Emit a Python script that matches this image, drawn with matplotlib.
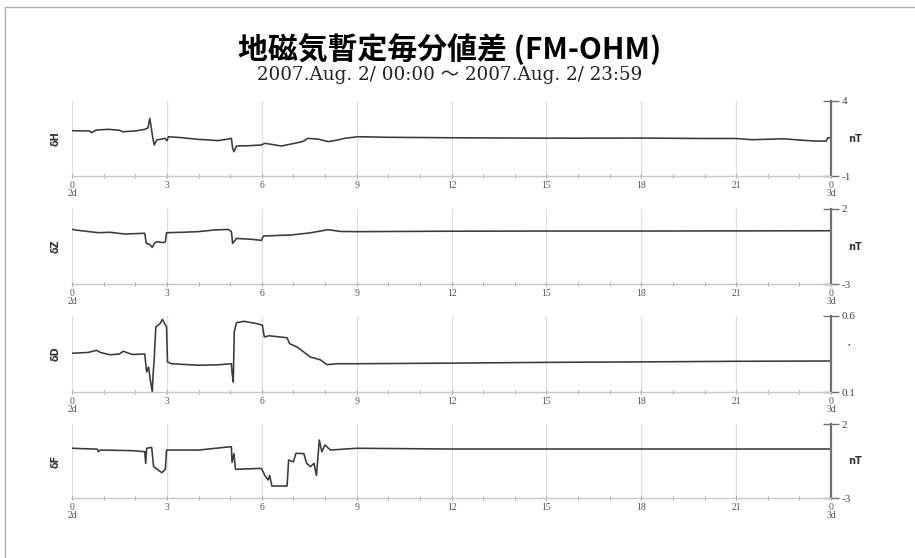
import matplotlib
matplotlib.use("Agg")
import matplotlib.pyplot as plt
from matplotlib.lines import Line2D

# ---------------- data (hours, values) ----------------
title = "地磁気暫定毎分値差 (FM-OHM)"
subtitle = "2007.Aug. 2/ 00:00 ～ 2007.Aug. 2/ 23:59"

labels = ["δH", "δZ", "δD", "δF"]
units = ["nT", "nT", "′", "nT"]
ranges = [(-1, 4), (-3, 2), (0.1, 0.6), (-3, 2)]
range_labels = [("-1", "4"), ("-3", "2"), ("0.1", "0.6"), ("-3", "2")]
xtick_labels = ["0\n2d", "3", "6", "9", "12", "15", "18", "21", "0\n3d"]

h_t = [0, 0.55, 0.62, 0.75, 0.8, 1.15, 1.5, 1.6, 2.0, 2.3, 2.4, 2.46, 2.5, 2.55, 2.6,
       2.68, 2.8, 2.94, 3.0, 3.05, 3.5, 3.99, 4.2, 4.62, 4.9, 5.04, 5.08, 5.12, 5.2,
       5.6, 5.99, 6.1, 6.62, 7.04, 7.3, 7.46, 7.8, 8.1, 8.4, 8.62, 9.04, 10, 12, 14,
       16, 18, 20, 21, 21.5, 22, 22.5, 23, 23.5, 23.85, 23.9, 24]
h_v = [2.02, 2.0, 1.89, 2.05, 2.07, 2.11, 2.05, 1.95, 2.0, 2.11, 2.2, 2.84, 2.3, 1.6, 1.07,
       1.4, 1.45, 1.51, 1.35, 1.62, 1.55, 1.44, 1.42, 1.36, 1.45, 1.51, 0.85, 0.62, 1.0,
       1.02, 1.07, 1.18, 1.0, 1.18, 1.3, 1.51, 1.45, 1.29, 1.4, 1.51, 1.62, 1.58, 1.55, 1.53,
       1.52, 1.53, 1.5, 1.5, 1.42, 1.45, 1.48, 1.4, 1.33, 1.33, 1.55, 1.55]

z_t = [0, 0.1, 0.83, 1.2, 1.67, 2.0, 2.3, 2.35, 2.45, 2.54, 2.6, 2.67, 2.88, 2.95, 2.99,
       3.5, 3.99, 4.5, 4.94, 5.04, 5.08, 5.2, 5.67, 5.99, 6.05, 6.94, 7.5, 8.1, 8.5, 9.04,
       12, 15, 18, 21, 24]
z_v = [0.65, 0.6, 0.42, 0.45, 0.33, 0.36, 0.38, -0.29, -0.35, -0.56, -0.3, -0.18, -0.24, -0.2, 0.42,
       0.45, 0.49, 0.6, 0.64, 0.49, -0.29, 0.04, -0.02, -0.09, 0.2, 0.27, 0.4, 0.62, 0.5, 0.49,
       0.52, 0.53, 0.53, 0.54, 0.55]

d_t = [0, 0.5, 0.78, 0.9, 1.2, 1.5, 1.62, 1.9, 2.3, 2.36, 2.42, 2.47, 2.54, 2.56, 2.6,
       2.65, 2.78, 2.86, 2.93, 2.99, 3.02, 3.15, 3.99, 4.62, 5.04, 5.06, 5.1, 5.13, 5.2,
       5.44, 5.86, 6.02, 6.08, 6.23, 6.8, 6.88, 7.12, 7.33, 7.54, 7.85, 8.06, 8.38, 9.0,
       12, 15, 18, 21, 24]
d_v = [0.355, 0.36, 0.374, 0.36, 0.345, 0.35, 0.368, 0.347, 0.35, 0.232, 0.264, 0.188, 0.1, 0.2, 0.319,
       0.528, 0.549, 0.578, 0.549, 0.528, 0.297, 0.286, 0.276, 0.279, 0.286, 0.23, 0.166, 0.495, 0.556,
       0.565, 0.549, 0.539, 0.462, 0.47, 0.457, 0.418, 0.396, 0.363, 0.33, 0.312, 0.28, 0.286, 0.286,
       0.29, 0.295, 0.298, 0.302, 0.304]

f_t = [0, 0.8, 0.83, 0.9, 1.9, 2.3, 2.33, 2.36, 2.52, 2.58, 2.84, 2.95, 2.99, 4.0, 5.04,
       5.06, 5.12, 5.17, 5.99, 6.1, 6.2, 6.25, 6.32, 6.8, 6.85, 7.0, 7.08, 7.33, 7.42, 7.54,
       7.65, 7.73, 7.82, 7.9, 8.0, 8.17, 9.0, 12, 15, 18, 21, 24]
f_v = [0.36, 0.3, 0.13, 0.24, 0.2, 0.13, -0.66, 0.36, 0.42, -0.88, -1.29, -1.06, 0.24, 0.24, 0.47,
       -0.6, 0.0, -1.06, -1.0, -1.48, -1.78, -1.48, -2.19, -2.19, -0.43, -0.56, 0.02, 0.0, -0.66, -0.88,
       -0.66, -1.48, 0.92, 0.13, 0.58, 0.24, 0.36, 0.31, 0.31, 0.31, 0.31, 0.31]

series = [(h_t, h_v), (z_t, z_v), (d_t, d_v), (f_t, f_v)]

# ---------------- figure ----------------
W, H = 915, 558
fig = plt.figure(figsize=(W / 100, H / 100), dpi=100)
fig.patch.set_facecolor("white")

# outer frame (top and left edges)
fig.add_artist(Line2D([5 / W, 1], [1 - 7 / H, 1 - 7 / H], color="#b0b0b0", lw=1.0))
fig.add_artist(Line2D([5 / W, 5 / W], [0, 1 - 7 / H], color="#b0b0b0", lw=1.0))

fig.text(450 / W, 1 - 49 / H, title, ha="center", va="center", fontsize=21.5,
         fontweight="bold", family=["Noto Sans CJK JP", "DejaVu Sans"])
fig.text(450 / W, 1 - 75 / H, subtitle, ha="center", va="center", fontsize=13.2,
         color="#222222", family=["DejaVu Serif", "Noto Sans CJK JP"])

panels = [(101, 176), (209, 284), (316, 392), (424, 498)]
x0, x1 = 72, 831
serif = ["Liberation Serif", "DejaVu Serif"]

for i, ((top, bot), (t, v)) in enumerate(zip(panels, series)):
    ax = fig.add_axes([x0 / W, 1 - bot / H, (x1 - x0) / W, (bot - top) / H])
    lo, hi = ranges[i]
    ax.set_xlim(0, 24)
    ax.set_ylim(lo, hi)
    for g in range(0, 24, 3):
        ax.axvline(g, color="#e0e0e0", lw=0.9, zorder=0)
    ax.plot(t, v, color="#3a3a3a", lw=1.15, zorder=2)

    for s in ["top", "left"]:
        ax.spines[s].set_visible(False)
    ax.spines["bottom"].set_color("#c8c8c8")
    ax.spines["bottom"].set_linewidth(1.0)
    ax.spines["right"].set_color("#707070")
    ax.spines["right"].set_linewidth(1.6)

    ax.set_xticks(range(0, 25, 3))
    ax.set_xticklabels(xtick_labels, fontsize=7, color="#555555", family=serif,
                       linespacing=0.9)
    ax.set_xticks(range(0, 25), minor=True)
    ax.tick_params(axis="x", which="both", direction="inout", length=3,
                   color="#999999", pad=2)

    ax.yaxis.tick_right()
    ax.set_yticks([lo, hi])
    ax.set_yticklabels(range_labels[i], fontsize=8, color="#444444", family=serif)
    ax.tick_params(axis="y", direction="inout", length=11, color="#707070",
                   width=1.0, pad=2)

    ax.text(-0.021, 0.5, labels[i], transform=ax.transAxes, rotation=90,
            ha="center", va="center", fontsize=7, fontweight="bold", color="#333333")
    ax.text(1.022, 0.5 if units[i] == "nT" else 0.57, units[i], transform=ax.transAxes,
            ha="left", va="center", fontsize=7, fontweight="bold", color="#333333")

fig.savefig("out.png", dpi=100, facecolor="white")
